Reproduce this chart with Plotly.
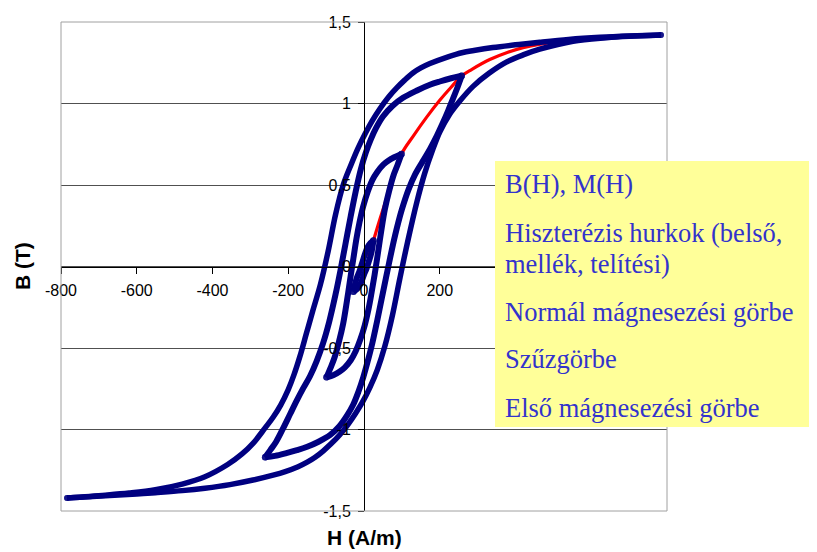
import plotly.graph_objects as go

# ---------------- data ----------------
# Major (saturation) loop, descending branch: right tip -> left tip
MAJ_DESC_H = [784, 700, 623, 540, 464, 400, 340, 290, 261, 220, 174, 150, 129, 108, 87, 65, 42, 22, 3, -16, -35,
              -55, -75, -95, -115, -135, -152, -169, -185, -200, -220, -240, -261, -293, -322, -360, -420, -480,
              -551, -620, -683, -784]
MAJ_DESC_B = [1.420, 1.414, 1.406, 1.393, 1.376, 1.360, 1.343, 1.325, 1.313, 1.285, 1.245, 1.218, 1.187, 1.145,
              1.097, 1.04, 0.968, 0.895, 0.815, 0.725, 0.62, 0.50, 0.32, 0.09, -0.11, -0.27, -0.41, -0.55, -0.665,
              -0.755, -0.85, -0.925, -0.99, -1.085, -1.15, -1.215, -1.29, -1.335, -1.37, -1.39, -1.403, -1.42]
# Major loop, ascending branch: left tip -> right tip
MAJ_ASC_H = [-784, -683, -600, -551, -480, -420, -354, -293, -240, -208, -174, -150, -129, -108, -87, -65, -42,
             -22, -3, 16, 35, 55, 75, 95, 115, 140, 160, 182, 200, 225, 253, 288, 330, 377, 420, 464, 552, 640,
             700, 784]
MAJ_ASC_B = [-1.420, -1.406, -1.396, -1.388, -1.375, -1.360, -1.338, -1.310, -1.280, -1.258, -1.228, -1.200,
             -1.170, -1.132, -1.088, -1.035, -0.968, -0.90, -0.828, -0.74, -0.635, -0.49, -0.30, -0.07, 0.15, 0.40,
             0.57, 0.72, 0.825, 0.93, 1.015, 1.105, 1.185, 1.255, 1.298, 1.333, 1.382, 1.403, 1.412, 1.42]

# Middle loop
MID_DESC_H = [258, 230, 200, 174, 140, 103, 75, 50, 32, 18, 5, -8, -22, -35, -48, -61, -75, -92, -108, -125,
              -142, -160, -177, -195, -214, -232, -247, -261]
MID_DESC_B = [1.17, 1.155, 1.135, 1.115, 1.08, 1.035, 0.985, 0.92, 0.85, 0.78, 0.70, 0.60, 0.46, 0.31, 0.15,
              -0.01, -0.17, -0.34, -0.47, -0.58, -0.67, -0.745, -0.82, -0.905, -0.995, -1.075, -1.125, -1.17]
MID_ASC_H = [-261, -235, -205, -177, -150, -120, -90, -65, -45, -29, -15, -2, 10, 22, 35, 50, 66, 82, 100, 118,
             135, 155, 174, 192, 208, 222, 235, 247, 258]
MID_ASC_B = [-1.17, -1.162, -1.145, -1.127, -1.106, -1.075, -1.035, -0.98, -0.915, -0.85, -0.77, -0.68, -0.58,
             -0.47, -0.33, -0.16, 0.02, 0.19, 0.35, 0.475, 0.565, 0.645, 0.72, 0.80, 0.88, 0.955, 1.03, 1.10, 1.17]

# Small loop
SML_DESC_H = [99, 80, 65, 51, 35, 22, 10, -2, -12, -20, -28, -36, -45, -55, -66, -78, -88, -99]
SML_DESC_B = [0.69, 0.67, 0.65, 0.625, 0.58, 0.53, 0.46, 0.37, 0.27, 0.17, 0.05, -0.07, -0.21, -0.35, -0.46, -0.56,
              -0.62, -0.68]
SML_ASC_H = [-99, -80, -65, -51, -35, -22, -10, 2, 12, 20, 28, 36, 45, 55, 66, 78, 88, 99]
SML_ASC_B = [-0.68, -0.665, -0.645, -0.62, -0.575, -0.52, -0.45, -0.36, -0.26, -0.16, -0.05, 0.07, 0.21, 0.35,
             0.46, 0.56, 0.62, 0.69]

# Smallest (inner) loop
INN_DESC_H = [25, 12, 3, -5, -12, -19, -24, -28]
INN_DESC_B = [0.16, 0.13, 0.08, 0.02, -0.03, -0.07, -0.11, -0.155]
INN_ASC_H = [-28, -17, -8, 0, 7, 14, 20, 25]
INN_ASC_B = [-0.155, -0.135, -0.10, -0.05, -0.01, 0.04, 0.09, 0.16]

# Normal magnetisation curve (red)
NORM_H = [11, 25, 42, 60, 78, 99, 130, 165, 200, 230, 258, 285, 332, 380, 420, 508, 570, 650, 784]
NORM_B = [0.06, 0.16, 0.29, 0.42, 0.55, 0.69, 0.80, 0.915, 1.02, 1.10, 1.17, 1.21, 1.27, 1.315, 1.343, 1.38,
          1.396, 1.41, 1.42]

H_TICKS = [-800, -600, -400, -200, 0, 200, 400, 600, 800]
H_TICK_TEXT = ["-800", "-600", "-400", "-200", "0", "200", "400", "600", "800"]
B_TICKS = [-1.5, -1.0, -0.5, 0.0, 0.5, 1.0, 1.5]
B_TICK_TEXT = ["-1,5", "-1", "-0,5", "0", "0,5", "1", "1,5"]

LEGEND_LINES = ["B(H), M(H)", "Hiszterézis hurkok (belső,", "mellék, telítési)",
                "Normál mágnesezési görbe", "Szűzgörbe", "Első mágnesezési görbe"]
X_TITLE = "H (A/m)"
Y_TITLE = "B (T)"

# ---------------- figure ----------------
OFF = 8                      # page body margin of the html page
VW, VH = 817, 552            # browser viewport
W, H = VW - OFF, VH - OFF    # figure size
L, R, T, B = 61, 667, 22, 511  # plot area in viewport pixels
NAVY = "#000080"


def px(xp):
    return (xp - L) / (R - L)


def py(yp):
    return (B - yp) / (B - T)


fig = go.Figure()

fig.add_trace(go.Scatter(x=NORM_H, y=NORM_B, mode="lines",
                         line=dict(color="#FF0000", width=3.2, shape="spline", smoothing=1.0),
                         hoverinfo="skip", showlegend=False))

branches = [(MAJ_DESC_H, MAJ_DESC_B, 5.5), (MAJ_ASC_H, MAJ_ASC_B, 5.5),
            (MID_DESC_H, MID_DESC_B, 6), (MID_ASC_H, MID_ASC_B, 6),
            (SML_DESC_H, SML_DESC_B, 6), (SML_ASC_H, SML_ASC_B, 6),
            (INN_DESC_H, INN_DESC_B, 6), (INN_ASC_H, INN_ASC_B, 6)]
for hx, by, lw in branches:
    n = len(hx)
    sizes = [lw + 0.5] + [0] * (n - 2) + [lw + 0.5]
    fig.add_trace(go.Scatter(x=hx, y=by, mode="lines+markers",
                             line=dict(color=NAVY, width=lw, shape="spline", smoothing=1.0),
                             marker=dict(color=NAVY, size=sizes, line=dict(width=0)),
                             hoverinfo="skip", showlegend=False))

axis_font = dict(family="Arial, Liberation Sans, sans-serif", size=16, color="black")

fig.update_layout(
    width=W, height=H,
    margin=dict(l=L - OFF, r=W - (R - OFF), t=T - OFF, b=H - (B - OFF), pad=0),
    paper_bgcolor="white", plot_bgcolor="white",
    separators=",.",
    xaxis=dict(range=[-800, 800], tickmode="array", tickvals=H_TICKS, ticktext=H_TICK_TEXT,
               showgrid=False, zeroline=False, showline=True, linecolor="black", linewidth=1,
               ticks="outside", ticklen=6, tickcolor="black", tickwidth=1, ticklabelstandoff=3,
               anchor="free", position=0.5, tickfont=axis_font, fixedrange=True, automargin=False),
    yaxis=dict(range=[-1.5, 1.5], tickmode="array", tickvals=B_TICKS, ticktext=B_TICK_TEXT,
               showgrid=True, gridcolor="#505050", gridwidth=1,
               zeroline=False, showline=True, linecolor="black", linewidth=1,
               ticks="outside", ticklen=6, tickcolor="black", tickwidth=1, ticklabelstandoff=4,
               anchor="free", position=0.5, tickfont=axis_font, fixedrange=True, automargin=False),
    showlegend=False,
)

shapes = [
    dict(type="rect", xref="paper", yref="paper", x0=0, x1=1, y0=0, y1=1,
         line=dict(color="#A0A0A0", width=1), layer="above"),
    dict(type="rect", xref="paper", yref="paper", x0=px(495), x1=px(840), y0=py(427), y1=py(161),
         line=dict(width=0), fillcolor="#FFFF99", layer="above"),
]
fig.update_layout(shapes=shapes)

serif = dict(family="Liberation Serif, Times New Roman, serif", size=26.5, color="#3333CC")
baselines = [192, 241, 272, 320, 367, 416]
annotations = []
for txt, bl in zip(LEGEND_LINES, baselines):
    annotations.append(dict(text=txt, xref="paper", yref="paper", x=px(503), y=py(bl - 8),
                            xanchor="left", yanchor="middle", showarrow=False, font=serif))

title_font = dict(family="Arial, Liberation Sans, sans-serif", size=21, color="black")
annotations.append(dict(text="<b>" + X_TITLE + "</b>", xref="paper", yref="paper", x=px(364), y=py(537),
                        xanchor="center", yanchor="middle", showarrow=False, font=title_font))
annotations.append(dict(text="<b>" + Y_TITLE + "</b>", xref="paper", yref="paper", x=px(22), y=py(266),
                        xanchor="center", yanchor="middle", showarrow=False, font=title_font, textangle=-90))
fig.update_layout(annotations=annotations)

fig.write_html("out.html")
